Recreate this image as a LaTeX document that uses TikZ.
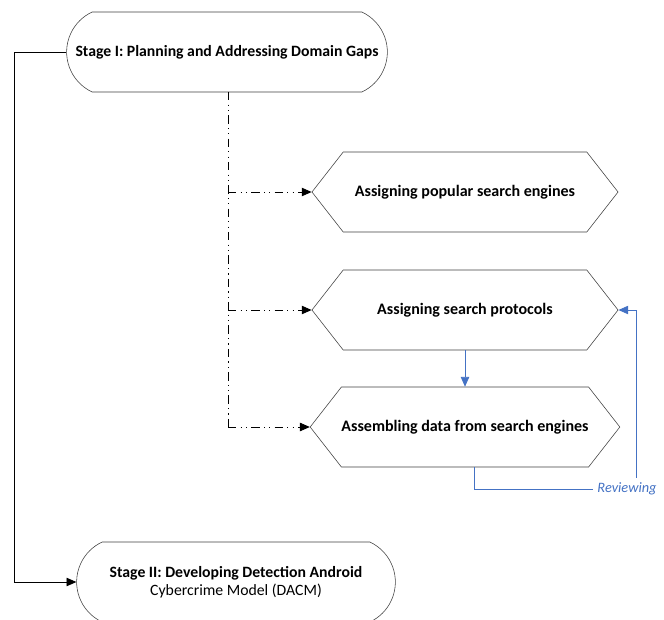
\documentclass[tikz,border=0pt]{standalone}
\usepackage{fontspec}
\setmainfont{Carlito}
\usetikzlibrary{shapes.symbols, shapes.misc, arrows.meta}
\definecolor{reviewblue}{RGB}{68,114,196}
\tikzstyle{stage} = [rounded rectangle, rounded rectangle arc length=130, minimum width=8.25cm, minimum height=2cm, text centered, align=center, draw=black!75, fill=white, font=\fontsize{11.2}{12.8}\selectfont]
\tikzstyle{task} = [signal, signal to=west and east, signal pointer angle=104, minimum width=7.65cm, minimum height=2cm, inner sep=0pt, text centered, draw=black!75, fill=white, font=\bfseries\fontsize{11.4}{13}\selectfont]
\tikzstyle{arrow} = [semithick, -{Triangle[length=7pt, width=6pt]}]
\tikzstyle{dashdot} = [semithick, dash pattern=on 6pt off 3pt on 0.8pt off 3pt on 0.8pt off 3pt]
\tikzstyle{review} = [semithick, draw=reviewblue, -{Triangle[length=7pt, width=6pt]}]

\begin{document}
\begin{tikzpicture}[x=0.025cm, y=-0.025cm]
    \useasboundingbox (0,0) rectangle (664,619);

    \node (stage1) [stage] at (227,52) {\textbf{Stage I: Planning and Addressing Domain Gaps}};
    \node (stage2) [stage, minimum width=8.2cm] at (236,582) {\textbf{Stage II: Developing Detection Android}\\ Cybercrime Model (DACM)};

    \node (task1) [task] at (465,192) {Assigning popular search engines};
    \node (task2) [task] at (465,310) {Assigning search protocols};
    \node (task3) [task] at (465,427) {Assembling data from search engines};

    \coordinate (trunk) at (228,92);
    \coordinate (left) at (14,52);

    % stage I to stage II
    \draw [arrow] (stage1.west) -- (left) |- (stage2.west);

    % stage I to the tasks
    \draw [dashdot] (trunk) -- (trunk |- task3.west);
    \draw [dashdot, arrow] (trunk |- task1.west) -- (task1.west);
    \draw [dashdot, arrow] (trunk |- task2.west) -- (task2.west);
    \draw [dashdot, arrow] (trunk |- task3.west) -- (task3.west);

    % blue links
    \draw [review] (task2.south) -- (task3.north);
    \node (reviewing) [text=reviewblue, font=\itshape\fontsize{10.2}{12}\selectfont] at (627,489) {Reviewing};
    \draw [review, -] (task3.south -| 474,0) |- (reviewing.west);
    \draw [review] (reviewing.north -| 636,0) |- (task2.east);
\end{tikzpicture}
\end{document}
